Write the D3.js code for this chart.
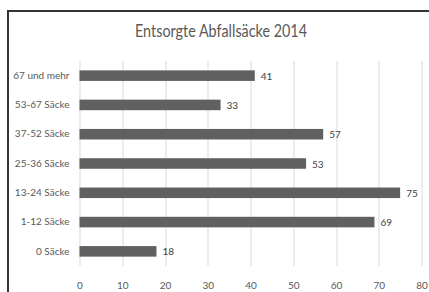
<!DOCTYPE html>
<html>
<head>
<meta charset="utf-8">
<script src="https://cdn.jsdelivr.net/npm/d3@7"></script>
<style>
  body { margin: 0; background: #fff; }
  text { font-family: Lato, "DejaVu Sans Condensed", sans-serif; }
</style>
</head>
<body>
<div id="chart-area"></div>
<script>
// Data
var categories = ["67 und mehr", "53-67 Säcke", "37-52 Säcke", "25-36 Säcke", "13-24 Säcke", "1-12 Säcke", "0 Säcke"];
var values = [41, 33, 57, 53, 75, 69, 18];
var xTicks = [0, 10, 20, 30, 40, 50, 60, 70, 80];
var title = "Entsorgte Abfallsäcke 2014";

var W = 429, H = 292;
var margin = { left: 79.5, right: 8, top: 61, bottom: 26 };
var width = 421.5 - margin.left,
    height = 266 - margin.top;
var font = "Lato, 'DejaVu Sans Condensed', sans-serif";

var svg = d3.select("#chart-area")
    .append("svg")
        .attr("width", W)
        .attr("height", H);

// Frame
svg.append("rect")
    .attr("x", 8)
    .attr("y", 11)
    .attr("width", 440)
    .attr("height", 320)
    .attr("fill", "none")
    .attr("stroke", "#333")
    .attr("stroke-width", 2);

// Title (squeezed a bit to get Calibri-like width)
svg.append("text")
    .attr("transform", "translate(221,37) scale(0.87,1)")
    .attr("text-anchor", "middle")
    .attr("font-size", "16.5px")
    .attr("fill", "#595959")
    .text(title);

var g = svg.append("g")
    .attr("transform", "translate(" + margin.left + "," + margin.top + ")");

// Scales
var x = d3.scaleLinear()
    .domain([0, 80])
    .range([0, width]);
var y = d3.scaleBand()
    .domain(categories)
    .range([0, height])
    .paddingInner(0.64)
    .paddingOuter(0.32);

// Gridlines
g.selectAll("line.grid")
    .data(xTicks)
    .enter().append("line")
        .attr("class", "grid")
        .attr("x1", function(d){ return Math.round(x(d)) + 0.5; })
        .attr("x2", function(d){ return Math.round(x(d)) + 0.5; })
        .attr("y1", 0)
        .attr("y2", height)
        .attr("stroke", "#d9d9d9")
        .attr("stroke-width", 1);

// X axis labels
var xAxisCall = d3.axisBottom(x)
    .tickValues(xTicks)
    .tickSize(0)
    .tickPadding(16);
var xAxis = g.append("g")
    .attr("transform", "translate(0," + height + ")")
    .call(xAxisCall);
xAxis.select(".domain").remove();
xAxis.selectAll("text")
    .attr("font-size", "10px")
    .attr("fill", "#595959")
    .style("font-family", font);

// Y axis labels
var yAxisCall = d3.axisLeft(y)
    .tickSize(0)
    .tickPadding(10);
var yAxis = g.append("g").call(yAxisCall);
yAxis.select(".domain").remove();
yAxis.selectAll("text")
    .attr("font-size", "10px")
    .attr("fill", "#595959")
    .style("font-family", font);

// Bars
g.selectAll("rect.bar")
    .data(values)
    .enter().append("rect")
        .attr("class", "bar")
        .attr("x", x(0))
        .attr("y", function(d, i){ return y(categories[i]); })
        .attr("width", function(d){ return x(d) - x(0); })
        .attr("height", y.bandwidth())
        .attr("fill", "#606060");

// Value labels
g.selectAll("text.val")
    .data(values)
    .enter().append("text")
        .attr("class", "val")
        .attr("x", function(d){ return x(d) + 6; })
        .attr("y", function(d, i){ return y(categories[i]) + y.bandwidth() / 2 + 4; })
        .attr("font-size", "10px")
        .attr("fill", "#404040")
        .style("font-family", font)
        .text(function(d){ return d; });
</script>
</body>
</html>
